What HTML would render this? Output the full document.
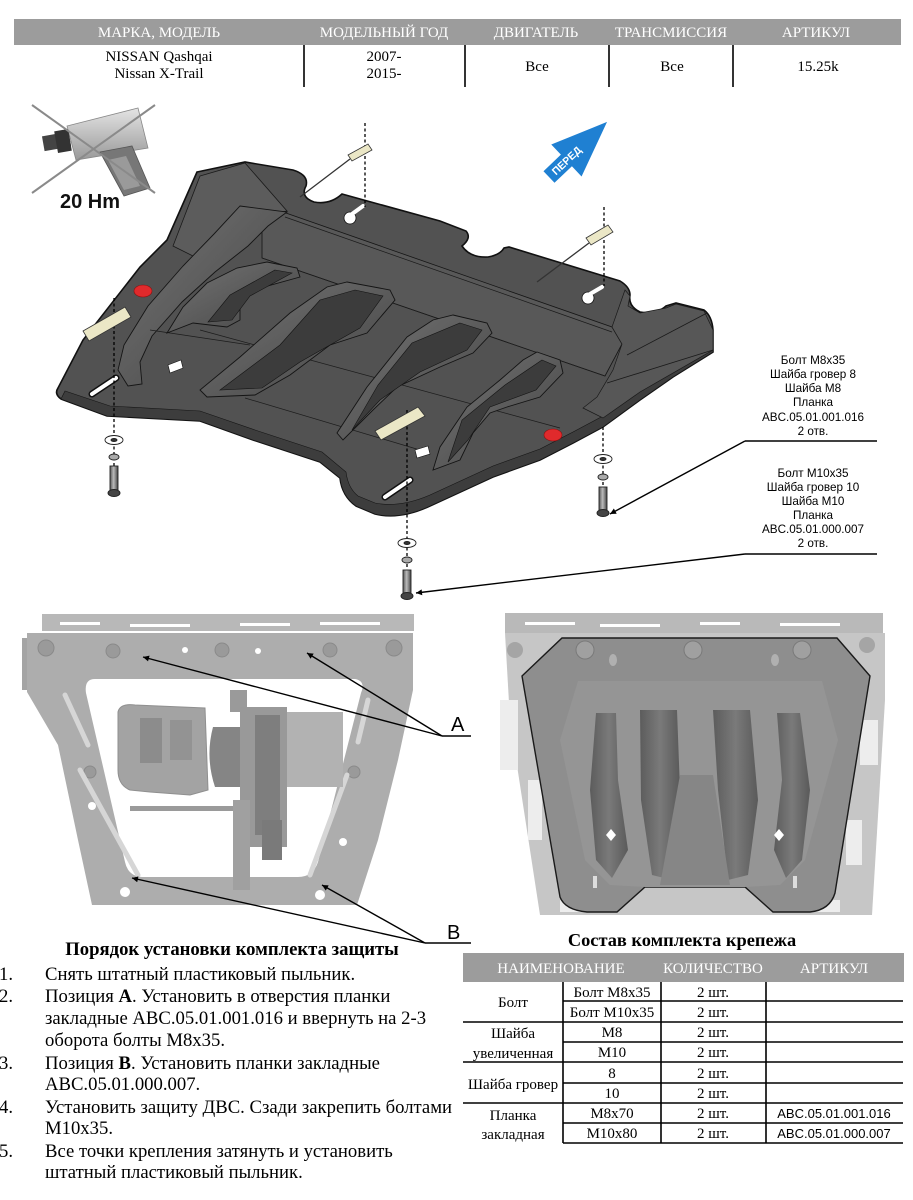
<!DOCTYPE html>
<html><head><meta charset="utf-8">
<style>
html,body{margin:0;padding:0;background:#fff;}
body{width:913px;height:1200px;overflow:hidden;position:relative;}
svg{position:absolute;left:0;top:0;}
.sf{font-family:"Liberation Serif","DejaVu Serif",serif;}
.ss{font-family:"Liberation Sans","DejaVu Sans",sans-serif;}
</style></head><body>
<svg width="913" height="1200" viewBox="0 0 913 1200" xmlns="http://www.w3.org/2000/svg">
<defs>
<marker id="ah" viewBox="0 0 10 10" refX="10" refY="5" markerWidth="9" markerHeight="6" orient="auto" markerUnits="userSpaceOnUse"><path d="M0,0 L10,5 L0,10 z" fill="#000"/></marker>
<linearGradient id="bolt" x1="0" x2="1"><stop offset="0" stop-color="#555"/><stop offset="0.45" stop-color="#bbb"/><stop offset="1" stop-color="#444"/></linearGradient>
<linearGradient id="wr" x1="0" y1="0" x2="0" y2="1"><stop offset="0" stop-color="#e4e4e4"/><stop offset="1" stop-color="#9a9a9a"/></linearGradient>
<linearGradient id="rib" x1="0" y1="0" x2="1" y2="1"><stop offset="0" stop-color="#747474"/><stop offset="1" stop-color="#444"/></linearGradient>
<linearGradient id="prib" x1="0" x2="1"><stop offset="0" stop-color="#5c5c5c"/><stop offset="0.5" stop-color="#7a7a7a"/><stop offset="1" stop-color="#5a5a5a"/></linearGradient>
</defs>

<!-- ===== Header table ===== -->
<rect x="14" y="19" width="887" height="26" fill="#9c9c9c"/>
<g class="sf" font-size="15" fill="#fff" text-anchor="middle">
<text x="159" y="37">МАРКА, МОДЕЛЬ</text>
<text x="384" y="37">МОДЕЛЬНЫЙ ГОД</text>
<text x="536" y="37">ДВИГАТЕЛЬ</text>
<text x="671" y="37">ТРАНСМИССИЯ</text>
<text x="816" y="37">АРТИКУЛ</text>
</g>
<g class="sf" font-size="15" fill="#000" text-anchor="middle">
<text x="159" y="61">NISSAN Qashqai</text>
<text x="159" y="78">Nissan X-Trail</text>
<text x="384" y="61">2007-</text>
<text x="384" y="78">2015-</text>
<text x="537" y="71">Все</text>
<text x="672" y="71">Все</text>
<text x="818" y="71">15.25k</text>
</g>
<g stroke="#000" stroke-width="1.6">
<line x1="304" y1="45" x2="304" y2="87"/>
<line x1="465" y1="45" x2="465" y2="87"/>
<line x1="609" y1="45" x2="609" y2="87"/>
<line x1="733" y1="45" x2="733" y2="87"/>
</g>

<!-- ===== Wrench icon ===== -->
<g>
<polygon points="67,126 138,108 148,148 76,160" fill="url(#wr)" stroke="#888" stroke-width="0.8"/>
<polygon points="100,152 132,146 150,188 124,196" fill="#777" stroke="#555" stroke-width="0.8"/>
<polygon points="108,160 126,156 140,186 124,190" fill="#9a9a9a"/>
<rect x="43" y="134" width="27" height="15" fill="#444" transform="rotate(-10 56 141)"/>
<rect x="56" y="130" width="14" height="22" fill="#333" transform="rotate(-10 63 141)"/>
<line x1="32" y1="105" x2="155" y2="193" stroke="#8a8a8a" stroke-width="2"/>
<line x1="155" y1="105" x2="32" y2="193" stroke="#8a8a8a" stroke-width="2"/>
<text x="60" y="208" class="ss" font-size="20" font-weight="bold" fill="#111">20 Hm</text>
</g>

<!-- ===== Blue arrow ===== -->
<g transform="translate(549,177) rotate(-43.5)">
<polygon points="0,-8 24,-8 24,-22 80,0 24,22 24,8 0,8" fill="#1f80d2"/>
<text x="6" y="3.8" class="ss" font-size="10.5" font-weight="bold" fill="#fff">ПЕРЕД</text>
</g>

<!-- ===== Main skid plate ===== -->
<g>
<path d="M197,172 L245,162 L293,170 Q309,175 306,186 Q300,197 314,202 Q330,205 342,194 L440,221 L466,231 Q472,238 462,246 Q470,258 488,257 Q500,255 504,248 L509,247 L620,281 Q630,287 630,295 Q628,306 640,312 Q656,315 666,306 L676,303 L704,310 Q712,316 713,330 L713,352 L673,377 L640,400 L603,427 L573,443 L540,460 L493,477 L430,506 Q400,520 375,514 L356,506 Q342,496 340,478 L320,462 L253,440 L200,421 L107,416 L61,399 Q54,394 58,388 L83,340 L140,267 L167,240 Z" fill="#525252" stroke="#111" stroke-width="1.6"/>
<path d="M713,340 L673,366 L640,389 L603,416 L573,432 L540,449 L493,466 L430,495 Q400,508 375,503 L358,496 Q348,488 346,472 L322,452 L255,430 L200,411 L110,406 L65,391 L61,399 L107,416 L200,421 L253,440 L320,462 L340,478 Q342,496 356,506 L375,514 Q400,520 430,506 L493,477 L540,460 L573,443 L603,427 L640,400 L673,377 L713,352 Z" fill="#3d3d3d" stroke="#151515" stroke-width="0.6"/>
<polygon points="200,176 245,163 287,211 262,215 232,234 205,262 173,246" fill="#5c5c5c" stroke="#1a1a1a" stroke-width="0.8"/>
<polygon points="283,212 612,327 622,344 605,376 262,258 262,228" fill="#585858" stroke="#151515" stroke-width="0.8"/>
<line x1="285" y1="217" x2="612" y2="332" stroke="#1a1a1a" stroke-width="0.7"/>
<polygon points="612,327 622,344 613,370 597,397 583,408 603,418 640,392 713,350 713,330 704,311 676,304 666,308 640,313 628,306 630,296 625,290" fill="#575757" stroke="#1a1a1a" stroke-width="0.7"/>
<line x1="627" y1="355" x2="707" y2="313" stroke="#1a1a1a" stroke-width="0.8"/>
<line x1="607" y1="383" x2="713" y2="350" stroke="#1a1a1a" stroke-width="0.8"/>
<polygon points="240,206 287,212 268,226 248,246 215,272 182,302 152,336 140,362 142,384 128,386 118,370 124,345 148,306 183,266 214,234" fill="url(#rib)" stroke="#151515" stroke-width="0.9"/>
<g stroke="#1c1c1c" stroke-width="0.7" fill="none">
<line x1="262" y1="258" x2="605" y2="376"/>
<line x1="200" y1="330" x2="560" y2="428"/>
<line x1="150" y1="330" x2="250" y2="345"/>
<line x1="245" y1="398" x2="420" y2="450"/>
</g>
<g stroke="#141414" stroke-width="0.9">
<polygon points="267,262 297,268 300,277 253,290 240,307 240,320 227,327 193,323 167,333 183,307 207,283 237,268" fill="url(#rib)"/>
<polygon points="347,282 390,290 395,300 367,333 330,345 290,375 255,395 207,397 200,390 240,357 290,313 327,287" fill="url(#rib)"/>
<polygon points="453,315 487,323 492,333 473,353 440,367 397,387 373,410 343,440 337,433 367,387 407,337 433,320" fill="url(#rib)"/>
<polygon points="537,352 560,360 563,373 540,397 507,407 490,413 473,433 460,460 433,470 440,447 467,407 500,380 523,360" fill="url(#rib)"/>
</g>
<g fill="#3c3c3c" stroke="#141414" stroke-width="0.6">
<polygon points="275,270 292,273 250,296 232,320 208,322 230,295"/>
<polygon points="355,290 383,296 360,328 300,362 262,388 220,390 280,345 320,300"/>
<polygon points="460,323 482,330 467,350 420,372 380,400 352,430 378,385 412,343"/>
<polygon points="542,360 556,366 536,390 490,407 468,440 448,462 462,420 505,385"/>
</g>
<circle cx="350" cy="218" r="6" fill="#fff" stroke="#111" stroke-width="0.8"/>
<line x1="352" y1="214" x2="363" y2="206" stroke="#fff" stroke-width="4" stroke-linecap="round"/>
<circle cx="588" cy="298" r="6" fill="#fff" stroke="#111" stroke-width="0.8"/>
<line x1="590" y1="294" x2="602" y2="287" stroke="#fff" stroke-width="4" stroke-linecap="round"/>
<line x1="92" y1="394" x2="116" y2="378" stroke="#111" stroke-width="7" stroke-linecap="round"/>
<line x1="92" y1="394" x2="116" y2="378" stroke="#fff" stroke-width="4" stroke-linecap="round"/>
<line x1="385" y1="497" x2="410" y2="480" stroke="#111" stroke-width="7" stroke-linecap="round"/>
<line x1="385" y1="497" x2="410" y2="480" stroke="#fff" stroke-width="4" stroke-linecap="round"/>
<polygon points="168,365 181,360 183,368 170,373" fill="#fff" stroke="#111" stroke-width="0.6"/>
<polygon points="415,450 428,446 430,454 417,458" fill="#fff" stroke="#111" stroke-width="0.6"/>
<ellipse cx="143" cy="291" rx="9" ry="6" fill="#e02a2c" stroke="#8a1010" stroke-width="0.6"/>
<ellipse cx="553" cy="435" rx="9" ry="6" fill="#e02a2c" stroke="#8a1010" stroke-width="0.6"/>
<line x1="350" y1="159" x2="300" y2="197" stroke="#333" stroke-width="1.3"/>
<line x1="589" y1="243" x2="537" y2="282" stroke="#333" stroke-width="1.3"/>
<g stroke="#000" stroke-width="1.3" stroke-dasharray="3,2.5" fill="none">
<line x1="365" y1="123" x2="365" y2="207"/>
<line x1="604" y1="207" x2="604" y2="286"/>
<line x1="114" y1="298" x2="114" y2="466"/>
<line x1="407" y1="410" x2="407" y2="570"/>
<line x1="603" y1="427" x2="603" y2="487"/>
</g>
<g fill="#ebe7c6" stroke="#333" stroke-width="0.8">
<polygon points="348,155 368,144 372,150 352,161"/>
<polygon points="586,238 608,225 613,232 591,245"/>
<polygon points="83,331 125,307 131,317 89,341"/>
<polygon points="375,431 418,407 425,416 381,440"/>
</g>
<g stroke="#222" stroke-width="0.9">
<ellipse cx="114" cy="440" rx="9" ry="4.5" fill="#fff"/><ellipse cx="114" cy="440" rx="3" ry="1.6" fill="#333"/>
<ellipse cx="114" cy="457" rx="5" ry="3" fill="#aaa"/>
<rect x="110" y="466" width="8" height="26" fill="url(#bolt)"/>
<ellipse cx="114" cy="493" rx="6" ry="3.5" fill="#444"/>
<ellipse cx="407" cy="543" rx="9" ry="4.5" fill="#fff"/><ellipse cx="407" cy="543" rx="3" ry="1.6" fill="#333"/>
<ellipse cx="407" cy="560" rx="5" ry="3" fill="#aaa"/>
<rect x="403" y="570" width="8" height="25" fill="url(#bolt)"/>
<ellipse cx="407" cy="596" rx="6" ry="3.5" fill="#444"/>
<ellipse cx="603" cy="459" rx="9" ry="4.5" fill="#fff"/><ellipse cx="603" cy="459" rx="3" ry="1.6" fill="#333"/>
<ellipse cx="603" cy="477" rx="5" ry="3" fill="#aaa"/>
<rect x="599" y="487" width="8" height="25" fill="url(#bolt)"/>
<ellipse cx="603" cy="513" rx="6" ry="3.5" fill="#444"/>
</g>
</g>

<!-- ===== Callouts ===== -->
<g class="ss" font-size="11.7" fill="#000" text-anchor="middle">
<text x="813" y="364">Болт M8x35</text>
<text x="813" y="378">Шайба гровер 8</text>
<text x="813" y="392">Шайба M8</text>
<text x="813" y="406">Планка</text>
<text x="813" y="421">ABC.05.01.001.016</text>
<text x="813" y="435">2 отв.</text>
<text x="813" y="477">Болт M10x35</text>
<text x="813" y="491">Шайба гровер 10</text>
<text x="813" y="505">Шайба M10</text>
<text x="813" y="519">Планка</text>
<text x="813" y="533">ABC.05.01.000.007</text>
<text x="813" y="547">2 отв.</text>
</g>
<g stroke="#000" stroke-width="1.4" fill="none">
<line x1="745" y1="441" x2="877" y2="441"/>
<line x1="745" y1="441" x2="610" y2="514" marker-end="url(#ah)"/>
<line x1="745" y1="554" x2="877" y2="554"/>
<line x1="745" y1="554" x2="416" y2="593" marker-end="url(#ah)"/>
</g>

<!-- ===== Left photo ===== -->
<g>
<rect x="42" y="614" width="372" height="17" fill="#b8b8b8"/>
<g fill="#fff"><rect x="60" y="622" width="40" height="3"/><rect x="130" y="624" width="60" height="3"/><rect x="240" y="623" width="50" height="3"/><rect x="320" y="622" width="60" height="3"/></g>
<rect x="22" y="638" width="18" height="52" fill="#a4a4a4"/>
<path fill-rule="evenodd" fill="#adadad" d="M27,633 L413,633 L413,690 L398,760 L378,840 L357,905 L92,905 L78,840 L58,745 L27,692 Z M95,679 L355,679 Q366,681 361,693 L318,862 Q313,877 298,877 L142,877 Q128,876 125,862 L86,693 Q84,679 95,679 Z"/>
<g fill="#9a9a9a" stroke="#8a8a8a" stroke-width="1">
<circle cx="46" cy="648" r="8"/><circle cx="113" cy="651" r="7"/><circle cx="222" cy="650" r="7"/><circle cx="330" cy="650" r="7"/><circle cx="394" cy="648" r="8"/>
<circle cx="90" cy="772" r="6"/><circle cx="354" cy="772" r="6"/>
</g>
<g fill="#fff"><circle cx="185" cy="650" r="3"/><circle cx="258" cy="651" r="3"/><circle cx="92" cy="806" r="4"/><circle cx="343" cy="842" r="4"/><circle cx="125" cy="892" r="5"/><circle cx="320" cy="895" r="5"/></g>
<g stroke="#d6d6d6" stroke-width="5" stroke-linecap="round">
<line x1="65" y1="695" x2="88" y2="745"/><line x1="80" y1="770" x2="138" y2="875"/>
<line x1="368" y1="700" x2="358" y2="742"/><line x1="347" y1="775" x2="310" y2="875"/>
</g>
<path d="M118,712 Q120,703 135,705 L205,708 L208,790 L190,795 L150,792 L130,790 Q118,785 118,770 Z" fill="#a3a3a3" stroke="#8f8f8f"/>
<rect x="140" y="718" width="22" height="45" fill="#8c8c8c"/><rect x="170" y="720" width="22" height="40" fill="#939393"/>
<path d="M213,727 Q205,757 215,787 L253,787 L253,727 Z" fill="#858585"/>
<rect x="230" y="690" width="17" height="22" fill="#9a9a9a"/>
<rect x="240" y="707" width="47" height="140" fill="#999"/>
<rect x="255" y="715" width="25" height="120" fill="#7e7e7e"/>
<rect x="287" y="712" width="56" height="75" fill="#b2b2b2"/>
<rect x="130" y="806" width="103" height="5" fill="#9a9a9a"/>
<rect x="233" y="800" width="17" height="90" fill="#a0a0a0"/>
<rect x="262" y="820" width="20" height="40" fill="#7a7a7a"/>
</g>
<g stroke="#000" stroke-width="1.4" fill="none">
<line x1="442" y1="736" x2="143" y2="657" marker-end="url(#ah)"/>
<line x1="442" y1="736" x2="307" y2="653" marker-end="url(#ah)"/>
<line x1="442" y1="736" x2="471" y2="736"/>
<line x1="425" y1="943" x2="132" y2="878" marker-end="url(#ah)"/>
<line x1="425" y1="943" x2="322" y2="885" marker-end="url(#ah)"/>
<line x1="425" y1="943" x2="471" y2="943"/>
</g>
<text x="451" y="731" class="ss" font-size="20" fill="#000">A</text>
<text x="447" y="939" class="ss" font-size="20" fill="#000">B</text>

<!-- ===== Right photo ===== -->
<g>
<rect x="505" y="613" width="378" height="20" fill="#b9b9b9"/>
<g fill="#fff"><rect x="525" y="622" width="50" height="3"/><rect x="600" y="624" width="60" height="3"/><rect x="700" y="622" width="40" height="3"/><rect x="780" y="623" width="60" height="3"/></g>
<polygon points="505,633 885,633 885,700 872,915 540,915 510,720" fill="#c6c6c6"/>
<g fill="#ededed"><rect x="500" y="700" width="18" height="70"/><rect x="528" y="780" width="14" height="60"/><rect x="860" y="720" width="18" height="45"/><rect x="846" y="820" width="16" height="45"/><rect x="560" y="900" width="40" height="12"/><rect x="800" y="900" width="40" height="12"/></g>
<circle cx="515" cy="650" r="8" fill="#a5a5a5"/><circle cx="867" cy="645" r="8" fill="#a5a5a5"/>
<path d="M522,676 L562,638 L837,638 L870,676 L835,893 Q830,910 810,912 L773,912 L745,887 L645,887 L617,912 L587,912 Q565,910 560,897 Z" fill="#8e8e8e" stroke="#1a1a1a" stroke-width="1.4"/>
<path d="M578,681 L822,681 L838,740 L805,860 L780,885 L745,887 L645,887 L610,885 L585,860 L560,740 Z" fill="#959595"/>
<g fill="url(#prib)">
<polygon points="596,713 616,713 618,780 628,850 612,878 596,860 590,790"/>
<polygon points="640,710 677,710 680,790 672,880 652,875 641,800"/>
<polygon points="713,710 750,710 758,800 748,875 728,880 718,790"/>
<polygon points="777,713 800,713 810,790 802,860 786,878 774,850 782,780"/>
</g>
<path d="M680,775 L713,775 L730,885 L660,885 Z" fill="#868686"/>
<g fill="#a0a0a0" stroke="#7a7a7a" stroke-width="1">
<circle cx="585" cy="650" r="9"/><circle cx="693" cy="650" r="9"/><circle cx="802" cy="650" r="9"/>
</g>
<ellipse cx="613" cy="660" rx="4" ry="6" fill="#b0b0b0"/><ellipse cx="775" cy="660" rx="4" ry="6" fill="#b0b0b0"/>
<polygon points="611,829 616,835 611,841 606,835" fill="#fff"/>
<polygon points="779,829 784,835 779,841 774,835" fill="#fff"/>
<rect x="593" y="876" width="4" height="12" fill="#ddd"/><rect x="793" y="876" width="4" height="12" fill="#ddd"/>
</g>

<!-- ===== Installation order ===== -->
<text x="232" y="955" class="sf" font-size="18.7" font-weight="bold" text-anchor="middle">Порядок установки комплекта защиты</text>
<g class="sf" font-size="18.7" fill="#000">
<text x="-1" y="980">1.</text><text x="45" y="980">Снять штатный пластиковый пыльник.</text>
<text x="-1" y="1002">2.</text><text x="45" y="1002">Позиция <tspan font-weight="bold">А</tspan>. Установить в отверстия планки</text>
<text x="45" y="1024">закладные ABC.05.01.001.016 и ввернуть на 2-3</text>
<text x="45" y="1046">оборота болты M8x35.</text>
<text x="-1" y="1069">3.</text><text x="45" y="1069">Позиция <tspan font-weight="bold">В</tspan>. Установить планки закладные</text>
<text x="45" y="1090">ABC.05.01.000.007.</text>
<text x="-1" y="1113">4.</text><text x="45" y="1113">Установить защиту ДВС. Сзади закрепить болтами</text>
<text x="45" y="1134">M10x35.</text>
<text x="-1" y="1157">5.</text><text x="45" y="1157">Все точки крепления затянуть  и  установить</text>
<text x="45" y="1178">штатный пластиковый пыльник.</text>
</g>

<!-- ===== Fastener table ===== -->
<text x="682" y="946" class="sf" font-size="18.4" font-weight="bold" text-anchor="middle">Состав комплекта крепежа</text>
<rect x="463" y="953" width="441" height="29" fill="#9c9c9c"/>
<g class="sf" font-size="15" fill="#fff" text-anchor="middle">
<text x="561" y="973">НАИМЕНОВАНИЕ</text>
<text x="713" y="973">КОЛИЧЕСТВО</text>
<text x="834" y="973">АРТИКУЛ</text>
</g>
<g stroke="#000" stroke-width="1.6">
<line x1="563" y1="982" x2="563" y2="1143"/>
<line x1="661" y1="982" x2="661" y2="1143"/>
<line x1="766" y1="982" x2="766" y2="1143"/>
<line x1="563" y1="1001" x2="903" y2="1001"/>
<line x1="463" y1="1022" x2="903" y2="1022"/>
<line x1="563" y1="1042" x2="903" y2="1042"/>
<line x1="463" y1="1062" x2="903" y2="1062"/>
<line x1="563" y1="1083" x2="903" y2="1083"/>
<line x1="463" y1="1103" x2="903" y2="1103"/>
<line x1="563" y1="1123" x2="903" y2="1123"/>
<line x1="563" y1="1143" x2="903" y2="1143"/>
</g>
<g class="sf" font-size="15" fill="#000" text-anchor="middle">
<text x="513" y="1007">Болт</text>
<text x="513" y="1038">Шайба</text>
<text x="513" y="1058">увеличенная</text>
<text x="513" y="1089">Шайба гровер</text>
<text x="513" y="1120">Планка</text>
<text x="513" y="1139">закладная</text>
<text x="612" y="997">Болт M8x35</text>
<text x="612" y="1017">Болт M10x35</text>
<text x="612" y="1037">M8</text>
<text x="612" y="1057">M10</text>
<text x="612" y="1078">8</text>
<text x="612" y="1098">10</text>
<text x="612" y="1118">M8x70</text>
<text x="612" y="1138">M10x80</text>
<text x="713" y="997">2 шт.</text>
<text x="713" y="1017">2 шт.</text>
<text x="713" y="1037">2 шт.</text>
<text x="713" y="1057">2 шт.</text>
<text x="713" y="1078">2 шт.</text>
<text x="713" y="1098">2 шт.</text>
<text x="713" y="1118">2 шт.</text>
<text x="713" y="1138">2 шт.</text>
</g>
<g class="ss" font-size="13" fill="#000" text-anchor="middle">
<text x="834" y="1118">ABC.05.01.001.016</text>
<text x="834" y="1138">ABC.05.01.000.007</text>
</g>
</svg>
</body></html>
